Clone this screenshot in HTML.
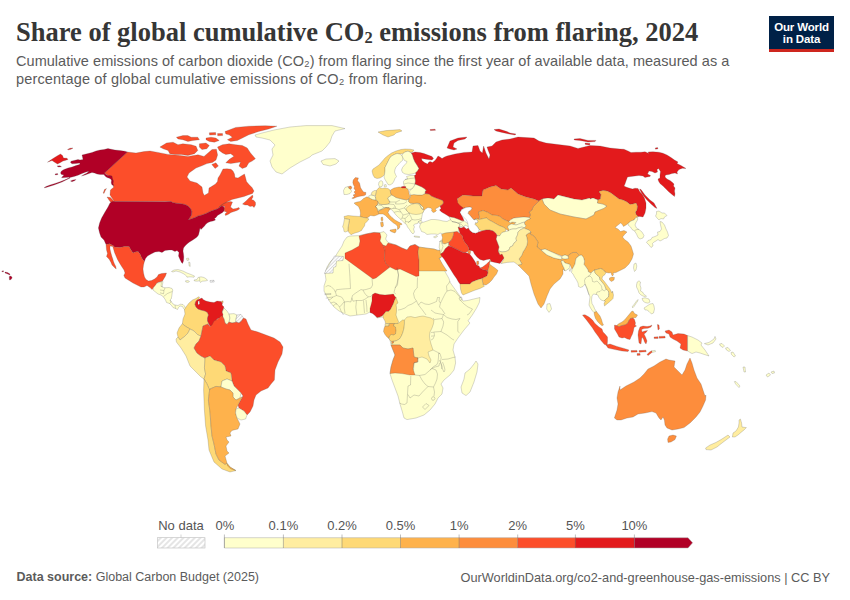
<!DOCTYPE html>
<html><head><meta charset="utf-8"><title>Share of global cumulative CO2 emissions from flaring, 2024</title>
<style>
html,body{margin:0;padding:0;background:#fff;}
body{width:850px;height:600px;position:relative;overflow:hidden;font-family:"Liberation Sans",sans-serif;}
.title{position:absolute;left:16px;top:15.5px;font-family:"Liberation Serif",serif;font-weight:bold;font-size:26.5px;line-height:32px;color:#363636;white-space:nowrap;letter-spacing:0px;}
.sub{position:absolute;left:16px;font-size:14.5px;line-height:18px;color:#5b5b5b;white-space:nowrap;}
.logo{position:absolute;left:769px;top:16px;width:65px;height:33px;background:#002147;border-bottom:3px solid #ce261e;color:#fff;font-weight:bold;font-size:11.5px;line-height:12px;text-align:center;}
.logo div{position:absolute;left:0;width:65px;text-align:center;white-space:nowrap;letter-spacing:-0.15px}
.foot{position:absolute;top:570px;font-size:13px;line-height:15px;color:#5b5b5b;white-space:nowrap;}
.lg{position:absolute;font-size:13px;line-height:15px;color:#555;white-space:nowrap;top:518px;transform:translateX(-50%);}
</style></head><body>
<div class="title" id="title">Share of global cumulative CO<span style="font-size:0.62em;position:relative;top:0.18em">2</span> emissions from flaring, 2024</div>
<div class="sub" id="sub1" style="top:52px;letter-spacing:0.045px">Cumulative emissions of carbon dioxide (CO₂) from flaring since the first year of available data, measured as a</div>
<div class="sub" id="sub2" style="top:70px;letter-spacing:0.16px">percentage of global cumulative emissions of CO₂ from flaring.</div>
<div class="logo"><div style="top:4.7px">Our World</div><div style="top:16.7px">in Data</div></div>
<svg width="850" height="600" viewBox="0 0 850 600" style="position:absolute;left:0;top:0">
<defs><pattern id="nodata" width="2.4" height="2.4" patternUnits="userSpaceOnUse" patternTransform="rotate(45)"><rect width="2.4" height="2.4" fill="#fff"/><line x1="1.2" y1="0" x2="1.2" y2="2.4" stroke="#d8d8d8" stroke-width="0.9"/></pattern></defs>
<g stroke="#444" stroke-width="0.3" stroke-opacity="0.7" stroke-linejoin="round">
<path d="M127.4,152 136,153 144,151.6 150,151 158,152.4 168,154.4 178,155.2 188,156.4 198,154.8 204,156.4 208,153 212,149.6 216.4,149.2 217.6,155 216,160 212.4,162.4 207,163.6 202.4,165.6 196,168 189,173 187,177 190,181 197,183 202,187 203,193 204.4,195.4 205,195 208.5,193 209,188 211.5,186.5 215.5,184 217.5,181.5 218,178 220,175 222,171 223,169 227,168.8 231,169.2 233,171 234.5,174 235,177.5 238,178 242,175.5 244.5,174 245.5,177.5 246.5,181.5 249,184.5 252,187.5 254,191 252.5,193.5 248,195 244,196.5 240,197.5 236,198.5 232,199.5 228,201.5 224,203.5 221,205.5 219,207 222,204.5 226,202.5 230,201.5 232.5,202 231.5,204.5 230.5,207 233,209 236,208.5 239,207.5 239.5,209 237,210.5 234,211.5 231,212.5 228,214.5 225.5,215.5 225,214 227,212 224.5,211.5 224,209 224.5,206 221.5,206 219.5,207.5 217,209 214,210 210,211.5 206,213.5 202,215 198,216 195,217.5 191,219 188.2,219.7 190,217.5 191.5,215 191.8,211.5 190.5,208.5 188,206 185,204.5 181,203.8 176,203.2 172.5,202.5 171,201.5 165,201.4 114.4,201.6 112,198 110,195 110.4,190 113.6,187.2 112,180 109,176 104.4,173Z" fill="#fc4e2a"/>
<path d="M242.5,204 246,201 249,198 251.5,196 252.5,195 253,197 251.5,199.5 254,200.5 255.5,202.5 255.5,205 254,207.5 252.5,206 250,206.5 247.5,205 245,205Z" fill="#fc4e2a"/>
<path d="M107,197 110.4,197.6 114.4,201.6 113.6,204 110,201.6Z" fill="#fc4e2a"/>
<path d="M112,201.6 165,201.8 171,201.5 172.5,202.5 176,203.2 181,203.8 185,204.5 188,206 190.5,208.5 191.8,211.5 191.5,215 190,217.5 188.2,219.7 191,219 195,217.5 198,216 202,215 206,213.5 210,211.5 214,210 217,209 219.5,207.5 221.5,206 223.5,206.2 224.2,208 224,211 222.5,212.5 220,214 217.5,215.5 216,217.5 214.5,218.5 215.5,220 213,221 210.5,221.5 208,222.5 206,224 204.5,226 202.5,228 201,229.5 200,228 199.5,231 199,233 198.5,235 197,237 195,238.5 192,240.5 189.5,242 187,244 185,246 183.5,248 183,251 183.5,254 183.8,257 183.5,261 182.5,263.5 181.5,262.5 180,259.5 178.5,256 179,252.5 177,250.5 175,251.5 172,250 169,250 165,250.5 162,252.5 159,251.5 155,252 151,254 147.5,256 145.5,258.5 144.5,261.2 143,260 141.5,257.5 140,254 138,251.5 135,252 133,253 131,250 129,246.5 124.5,246.5 120,247.5 114.5,247 113,245.5 109.5,243.8 106,244.5 104,240 101,237 99.6,233 98.4,228 99.6,223 101.6,218 105,212 108,207 110,203Z" fill="#b10026"/>
<path d="M255,135 262,133 274,130 290,127 306,125.6 332,125.6 345,128.6 335,131 332,136 330,142 326,147 322,151 312,155 310,157 300,162 290,168 282,174 276,172 272,167 270,161 273,155 272,149 275,145 270,140 262,138 256,137Z" fill="#ffffcc"/>
<path d="M321,161 326,159 335,158.6 339,161 336,164 330,166 323,164.4Z" fill="#ffffcc"/>
<path d="M225,131.5 235.7,127.4 248.8,126.2 265.3,125.7 276.9,126.2 268.6,129 258.7,131.5 248.8,134.8 242.3,138.1 237.3,140.5 230.7,141.4 227.4,139.7 232.4,137.2 229.1,134.8 225.8,133.9Z" fill="#fc4e2a"/>
<path d="M217.5,147.1 222.5,144.7 229.1,143.8 235.7,144.7 242.3,145.5 247.2,147.9 250.5,152.9 255.4,158.7 252.1,161.1 248.8,162.8 246.4,166.9 242.3,168.5 239,166.1 240.6,162 235.7,162.8 230.7,163.6 225.8,162.8 229.1,159.5 234,156.2 230.7,153.7 225.8,154.5 222.5,152.9 219.2,150.4Z" fill="#fc4e2a"/>
<path d="M159.9,147.1 166.5,143 173.1,142.2 178,144.7 182.9,143.8 191.2,144.7 196.1,146.3 197.8,150.4 194.5,153.7 187.9,155.4 181.3,154.5 174.7,154.5 169.8,153.7 168.1,150.4 163.2,148.8Z" fill="#fc4e2a"/>
<path d="M176.4,137.2 182.9,135.6 187.9,135.6 191.2,137.2 197.8,137.2 199.4,139.7 192.8,140.5 187.9,141.4 182.9,139.7 178,138.9Z" fill="#fc4e2a"/>
<path d="M206,138.1 211,137.2 215.9,138.1 219.2,140.5 214.3,142.2 209.3,141.4 206,139.7Z" fill="#fc4e2a"/>
<path d="M209.3,132.8 215.6,132.5 215.9,134.8 209.6,135.1Z" fill="#fc4e2a"/>
<path d="M217.5,133.6 222.5,133.5 222.7,135.6 217.7,135.8Z" fill="#fc4e2a"/>
<path d="M199.4,143.8 206,143 209.3,145.5 206.8,148.8 201.9,149.6 199.4,147.1Z" fill="#fc4e2a"/>
<path d="M211.8,164.4 215.9,162.8 218.4,166.1 215.1,168.5Z" fill="#fc4e2a"/>
<path d="M9.2,276.5 11,276 12.2,277.8 11,279.5 9.5,280Z" fill="#b10026"/>
<path d="M5,272 7.5,272.5 10,274 9.8,275 7.2,273.8 5,273Z" fill="#b10026"/>
<path d="M1.8,271 3.5,270.8 3.5,271.8 2,271.8Z" fill="#b10026"/>
<path d="M186.5,258.5 188.5,258 189,260 187,260.5Z" fill="#ffffcc"/>
<path d="M188.7,262 190,262.5 190.2,266.5 189.2,266Z" fill="#ffffcc"/>
<path d="M127.4,152 125,151.2 120,150.5 115,150 110,149 108,148.5 104,149.5 100,150 96,151 92,152.5 88,153.5 84,154.5 82,155 82.5,157 83,159.5 80,160 78,159.5 74,160.5 71,161.2 70.5,162.5 72,163.8 76,163.5 80,163 79.5,164.5 76,165.5 72,167 68,168 64,169.5 61.5,171 60.5,173 61.5,174.5 64,175 62.5,176.5 61.5,177.8 65,177.5 69,177.2 70,178 66,180 62,182 58,183.5 54,185 50,186.2 46,187.5 44,187.8 46,186.5 50,185 55,183.5 60,181.8 65,179.8 70,177.5 74,176.5 78,175.2 82,173.5 86,172 89,171.2 87,173 84,174.5 81.5,176 85,175 89,173.5 92,172.5 94.5,173 97,174 100,174.5 104,174.5 105,176 107,177.5 110,178.5 111.5,180 111.2,183 112,185 114,185.5 113,184 113.5,181 112.5,178.5 112,176 110,175.5 108,175.5 106,174.5 104.5,173Z" fill="#b10026"/>
<path d="M47.5,162.2 50,160.5 53,158.5 57,156 60.5,154 62.5,155.5 63.5,158 67,158.2 68,159.5 65,160.5 63,161 60.5,162.5 57.5,164 55,162.5 52,160.5Z" fill="#e31a1c"/>
<path d="M67.5,149.5 70,148.2 73,148 71,149.2 68.5,149.8Z" fill="#e31a1c"/>
<path d="M57,166 60,165.8 61.5,166.8 58.5,167Z" fill="#b10026"/>
<path d="M55,174 57.5,173.5 58,174.5 55.5,175Z" fill="#b10026"/>
<path d="M70.5,181 73,180 76,179.5 75,180.5 72,181.8Z" fill="#b10026"/>
<path d="M103.2,193 104.5,189.5 106.5,188.5 105,191 104,193.5Z" fill="#fc4e2a"/>
<path d="M106,244.5 109.5,243.8 113,245.5 114.5,247 120,247.5 124.5,246.5 129,246.5 131,250 133,253 135,252 138,251.5 140,254 141.5,257.5 143,260 144.5,261.2 143.5,265 143,269 143.5,273 144.5,277 146,279.5 148.5,281 151.5,280.5 154.5,279 157,277 158.5,274.5 161.5,273.5 166.5,273 165.5,276 164,278.5 162.5,281 161.5,281.5 159,282 157,283 156,285 156.5,286.5 154,287 152,289.5 150,287.5 147,285.5 144,287 141,287 137,285 133,283 129,280.5 125,278 123.8,275.5 125,273 124,270 122,267 119.5,263 117.5,259.5 116,256 114.5,252.5 113.5,249 112.8,246.5 110,246 110,249 110.8,252.5 111.8,256 112.8,259 113.5,261.5 114.5,264 115.8,266.5 116.2,269 115,268 112,265 111,262.5 109,259 106.5,256.5 107.5,253.5 106.5,250Z" fill="#fc4e2a"/>
<path d="M224,308 227,311 229,314 230,318 229,322 227,324.4 225,323 224,319 222.4,316 221,316 222.4,311.6Z" fill="#ffffcc"/>
<path d="M229,314 234,313.6 237,315 236,319 236,322 235,322.4 232,323 229,322 230,318Z" fill="#ffffcc"/>
<path d="M237,315 241,314.4 243.6,318 241,321.6 239,323 236,322 236,319Z" fill="url(#nodata)"/>
<path d="M153.5,287.5 155.5,285 157,283 160,282.5 161.5,281.5 163,281.5 162.5,284.5 162,287 165,287.8 169,287.5 172,288.5 172.8,290 172.2,293 171.8,296 171.2,299 170,300 171.5,302 173,304 175,305 178,305.5 180.5,304.2 183,304.5 184.5,306 185.5,308.5 184.5,309.5 183.5,308.5 182.5,306.5 180,306 178.5,307.5 177.5,309.5 175.5,308.5 173,307.5 171.5,305.5 169.5,303.5 166.5,302.5 165.5,300 163.5,297 161,295 158,294 155.5,292 153,290Z" fill="#ffffcc"/>
<path d="M171.5,271.5 174,270 178,269.5 183,271 187,273 191,274.5 194.5,276 194,277.2 190,276.8 187,277.2 186.5,276 184,274 180,272 176,271 173,272Z" fill="#ffffcc"/>
<path d="M185.5,280.8 188,280.5 189.5,281.5 188,282.5 185.8,282Z" fill="#ffffcc"/>
<path d="M194,280 197,279.5 198,277.5 201,276.8 204,277.5 206.5,279 207.5,280.5 205,281 202,281.2 200.5,282.5 199.5,280.8 197,281.2 194.5,281Z" fill="#ffffcc"/>
<path d="M210,280.5 214,280.3 214.2,282 210.2,282.2Z" fill="url(#nodata)"/>
<path d="M221.5,301.2 223,300.8 223.2,302.5 221.8,302.8Z" fill="#feb24c"/>
<path d="M184.5,309.5 186,307 189,303 192.5,300 196,298.5 198.5,296.8 199.5,297.2 199,298.5 197,300 195.5,302 195,304.5 196,307 198,309 201,310 205,311 207.5,312.5 208.5,315 207.5,318 207.5,321 209,324 208,324 203,326 202,331 201,336 198,335 194,331 190,329 185,326 182.4,323.6 183,319 185,314 184.4,310Z" fill="#fed976"/>
<path d="M197,300 199.5,299 202,298 203,299.5 206,301 210,302 214,302.5 217,301 221,301.5 222.5,303.5 222,305 224,307 223,309.5 222,312 223,314.5 222.5,317 219.5,318 217,319 215.5,322 214,325 211.5,326.5 209.5,325.5 209,324 207.5,321 207.5,318 208.5,315 207.5,312.5 205,311 201,310 198,309 196,307 195,304.5 195.5,302Z" fill="#e31a1c"/>
<path d="M198,301.2 199.3,300.8 199.6,303.5 198.8,305 198,304Z" fill="#ffffff"/>
<path d="M182.4,323.6 185,326 190,329 188,333 184,337 180,340 178,337 177,333 179,328Z" fill="#fed976"/>
<path d="M178,337 180,340 184,337 188,333 190,329 194,331 198,335 201,336 199,341 196,344 194,348 197,353 201,356 205,358 205,360 204.4,368 205.6,374 204,379 201,377 196,372 190,366 186,356 181,348 176.4,342 176,339Z" fill="#ffeda0"/>
<path d="M210,326.4 212,325 214,321 218,319 221,316 222.4,316 224,319 225,323 227,324.4 229,322 232,323 235,322.4 236,322 239,323 241,321.6 243.6,318 246,319 248,324 251,330 258,332 266,335 274,338 280,342 283,347 282,354 278,362 275,370 274.4,380 271,384 268,388 261,391 256,395 254,400 253,406 250,412 247,415 244,411 239,408 238,405 243,396 241,393 238,390 234,386 232,381 231,373 226,371 225,366 221,362 214,360 210,356 205,358 201,356 197,353 194,348 196,344 199,341 201,336 202,331 203,326 208,324Z" fill="#fc4e2a"/>
<path d="M205,358 210,356 214,360 221,362 225,366 226,371 231,373 232,381 227,379 222,381 221,387 216,386.4 210,389 209.6,390 207,384 204,379 205.6,374 204.4,368 205,360Z" fill="#fed976"/>
<path d="M222,381 227,379 232,381 234,386 238,390 241,393 240,398 236,400 233,397 233,393 230,390 226,389 221,387Z" fill="#ffffcc"/>
<path d="M204,379 207,384 209.6,390 208.4,400 210,412 211,426 212,436 214,444 216,454 219,460 225,464.4 227,463 230,467 236,470.6 230,472 222,469 214,462 209,450 208,440 205.6,426 204.4,410 203.6,390Z" fill="#fed976"/>
<path d="M209.6,390 210,389 216,386.4 221,387 226,389 230,390 233,393 233,397 236,400 240,398 242.4,396.6 238,405 236,409 235.6,413 237,418 238,420 240,424 238,429 232,430.4 230,433 231,436 226,437 227,440 229,442 226,446 227,451 229,453 225,456 227,463 225,464.4 219,460 216,454 214,444 212,436 211,426 210,412 208.4,400Z" fill="#feb24c"/>
<path d="M227,463.6 230,467 235.6,470.4 231,469 227.6,466Z" fill="#feb24c"/>
<path d="M236,409 239,408 244,411 247,415 245.6,419 241,420 237,418 235.6,413Z" fill="#ffffcc"/>
<path d="M378,132 386,130.6 400,129.6 402,131 396,133 394,135 388,137 383,135Z" fill="#fed976"/>
<path d="M375.5,197 378,201.5 379,204 382,204.5 385,204.5 388,204 390,202.5 389,201 387.5,198 389.5,196.5 391.5,195 393,195.5 396,197.5 400,198.5 404,199.5 406.5,200 409,199 408.5,201.5 410,203 413.5,203.5 417,203 419.5,203.5 421.5,205.5 423.5,207.5 423,209.5 424,210.5 423,212.5 422.5,213.5 422,216 421.5,218.5 421.2,220.5 418.5,221.5 417.5,223.5 415,224 413.5,225 414.5,227 413.5,229 414.5,232 413,234 411,232 409.5,229.5 407.5,227 406.5,224.5 405,223.5 403,221.5 401,219.5 398.5,217.5 396,215 394,212.5 392.5,210.5 390.5,209 389,207.5 386,207.5 383,209 380.5,210 378,211.5 377,208.5 375.5,206.5 377.5,204.5 378,201.5Z" fill="#ffffcc"/>
<path d="M343.5,190.5 345,187.5 348,186.5 348.5,188 351,189.5 351.5,191.5 350,193.5 347,194.5 344,194.5Z" fill="#ffffcc"/>
<path d="M348.5,186.5 351,186 352,188 350.5,189.2 348.8,188.2Z" fill="#fd8d3c"/>
<path d="M353.5,185 352.8,182.5 353.2,180 355.3,177.6 358.4,177.9 357.6,180.7 359.5,183 360,185 360.5,187.5 362,190 363.5,192 366,192.5 365.5,195 363.5,195.8 360,196.2 357,197 353.5,198.5 351.8,198.2 354.5,196.5 353,195 355.5,194 354,192 355.5,190.5 354,188.5 354.5,186.5Z" fill="#fd8d3c"/>
<path d="M354,203 357,202 360,201.5 362,200 363.5,198.5 367,196.8 369.5,198 372.5,199.5 376,200 378,201.5 377.5,204.5 375.5,206.5 377,208.5 378,211.5 379,214 377,215 374,216 370.5,215.5 368.5,217 367,218 363.5,217.5 360,216.5 360.5,213.5 360,210 358.5,206.5 355.5,204.5Z" fill="#feb24c"/>
<path d="M381,217.5 382.5,217 383,220 382,221.5 381,220Z" fill="#feb24c"/>
<path d="M380.5,222.5 383,222 383.5,225.5 382.5,227 381,226.5Z" fill="#feb24c"/>
<path d="M344,216.5 348,215.5 353,216 360,216.5 363.5,217.5 367,218 369,219 367,221.5 365,223.5 364.5,226 363,228 361.5,230.5 358.5,232 355,233 352.5,234 351,234.8 349,232.5 348,231 348,228 348.5,225 349,222 349.5,219.5 346.5,219 344.5,218.5Z" fill="#fed976"/>
<path d="M344.5,218.5 346.5,219 349.5,219.5 349,222 348.5,225 348,228 348,231 345.5,232 344,231.5 343.5,228 342.5,227 343.5,224 344,221Z" fill="#ffeda0"/>
<path d="M368.5,196 371,195 373.5,195.5 375.5,197 376,200 372.5,199.5 369.5,198Z" fill="#ffffcc"/>
<path d="M371,194.5 372,192 374.5,190.5 376.5,190.5 376.2,193 375.5,195.5 373.5,195.5Z" fill="#ffeda0"/>
<path d="M376.5,190.5 378,188.5 379.5,187.5 382,188.5 385,188 388,188.5 390,190 390.5,192.5 391.5,195 389.5,196.5 387.5,198 389,201 390,202.5 388,204 385,204.5 382,204.5 379,204 378,201.5 376,200 375.5,197 375.5,195.5 376.2,193Z" fill="#fed976"/>
<path d="M390.5,190 394,188 399,187 404,187.5 407,188 408.5,190.5 409,193.5 410,196.5 409,199 406.5,200 404,199.5 400,198.5 396,197.5 393,195.5 391.5,195 390.5,192.5Z" fill="#feb24c"/>
<path d="M378,211.5 380.5,210 383,209 386,207.5 389,207.5 390.5,209 389,210.5 388,212.5 389.5,215 392,217.5 395,220 398.5,222 401.5,223.5 402,224.5 399.5,225 400,227 398.5,229 397.5,229.5 397.5,226.5 396,224.5 393.5,223 390.5,220.5 388,218 385.5,215.5 383,214 380.5,214 379,214Z" fill="#feb24c"/>
<path d="M390,230 393,229.5 396,229 396.2,231 395,233 392,232 390.2,231Z" fill="#feb24c"/>
<path d="M410.5,195 414,194.5 418,195 422,195 425,193.5 429,194 431.5,196 435,197.5 439,199 443,200.5 443.5,203 442,205 440,206 438,207.5 435,209 436.5,210.5 435,212 433,212.5 431.5,210.5 432,209 430.5,208 428,207.5 426,208.5 424.5,210 423,209.5 423.5,207.5 421.5,205.5 419.5,203.5 417,203 413.5,203.5 410,203 408.5,201.5 409,199 410.5,197Z" fill="#feb24c"/>
<path d="M406,208.5 408.5,206 411.5,204.5 415,203.5 419,204 420.5,206.5 422,209 424,210.5 423,212.5 420,214 416,214.5 412,214 408.5,212.5 406.5,210.5Z" fill="#ffeda0"/>
<path d="M420,225 421,223 424,222 427,221 431,219.5 435,219.5 439,220 443,221 447,221.5 450.5,219.5 452,221.5 455,222 458,223 459,223.5 460,225 459,227 458.5,231.5 455,232 451,232.5 447,233 443,234 440,233 438,234.5 435,234 431,234 427,234.5 424.5,232.5 421.5,231.5 420.5,229 419.5,227Z" fill="#ffffcc"/>
<path d="M418.5,221.5 421.2,220.5 422.2,221.8 420,223.5 418.8,223Z" fill="#ffffcc"/>
<path d="M449,216.5 451,217 454,217.5 458,219 461.5,220.5 464,220.8 467,223 469,224.5 468.5,227 467,226 465,225 464,227 461,226.5 459,227 460,225 459,223.5 458,223 455,222 452,221.5 450.5,219.5Z" fill="#ffffcc"/>
<path d="M414,236 419.5,236.5 419.5,237.5 414.5,237Z" fill="#ffffcc"/>
<path d="M433.5,237 437,235.5 437.5,236.5 435,238Z" fill="#ffffcc"/>
<path d="M372,171 373,169 376,167 379,165 382,161.5 385,158 388,155.5 391.5,153 396,151 401,149.5 405,149 410,149.2 414,150 413,151.5 411,152.5 408,151.2 405,152 403,153.5 400,154 397,153.5 394.5,154.5 391.5,156 389.5,158.5 388,161.5 386.5,164.5 385,167.5 385,171 384.5,174.5 382.5,176.5 380,178 377,178.5 374.5,177.5 373,175Z" fill="#fed976"/>
<path d="M385,167.5 386.5,164.5 388,161.5 389.5,158.5 391.5,156 394.5,154.5 397,153.5 400,154 402,155.5 403,158 402.5,160.5 400,162.5 398,165 396,167 395,169.5 394.5,172 395.5,174.5 396.5,176.5 395,178.5 394,181 392.5,183.5 390,185 388,184.5 386.5,182 385,179.5 384,177 384.5,174.5 385,171Z" fill="#ffffcc"/>
<path d="M403,153.5 405,152 408,151.2 411,152.5 412.5,155 413.5,158.5 415,162 417,165 419,168.5 417.5,171 415.5,173 412,174 408.5,174.5 405,174 402.5,172.5 401.5,170 402.5,167.5 404.5,165 406.5,163 407,161.5 404.5,160.5 403,158 402,155.5Z" fill="#ffffcc"/>
<path d="M406.5,176.5 410,175.5 414.5,175.5 415,178 415.5,181 415,184 414,186.5 412,189 409,189.5 406,188 405,187 403.5,184 403.5,181.5 405,179.5 407.5,179 407,177.5Z" fill="#ffffcc"/>
<path d="M401,187 403.5,186.2 406,186.8 405.5,188 402,188Z" fill="#e31a1c"/>
<path d="M414,186.5 415,184 417.5,185 422,187 425,189 426.5,191 425.5,191 425,193.5 422,195 418,195 414,194.5 410.5,195 410,193.5 409.5,192 410,190 412,189Z" fill="#ffffcc"/>
<path d="M379,182 381,180.5 382.5,181.5 383,184 382,186.5 379.5,187 378.5,184.5Z" fill="#ffffcc"/>
<path d="M384,185 386,184.5 386.5,186.5 384.5,187Z" fill="#ffffcc"/>
<path d="M350,236 359,235.6 366,234 374,232.4 380,232.6 384,231.6 387,235 385.6,239 388,242.4 396,245 402,248 407,250 410,246 415,244.4 419,247 426,248 434,249 438,250.4 442,250 443,255 440.4,258 439,258 442.5,266.4 445.3,272 448.9,278.4 450.3,282.7 453.8,287.6 457.4,292.6 460.2,296.5 461.6,299 463,301.1 468,300.4 473.7,299 480,297.5 479.3,302.5 476.5,308.2 472.2,315.2 468,320.9 470,323 464,330 458,338 454,344 453,350 455,357 455.6,363 454,370 450,375 444,380 441,384 443,388 442,394 438,398 435,404 430,410 424,415 416,418 407,419.6 404,418 402.4,412 400,404 398,396 395,388 392,380 390,373.6 391,367 393,360 395,355 393,350 391,345 390,340 388,335 385.6,330 385,326 387,324 387,319 382,317 377,318 374,313 370,312 366,314 358,315 350,316 345,314 339,311 334,307 330,302 327,297 324,291 324,286 326,280 325,273 327,267 330,262 335,257 338,252 342,246 344,241 347,237Z" fill="#ffffcc"/>
<path d="M334.5,256 343.5,256.5 343,260.5 336.5,261 336,266.5 333.5,267.5 333,273 324.5,273.5 326,270 329,265 332,260Z" fill="url(#nodata)"/>
<path d="M359,236 366,234 374,232.4 380,233 381,237 380,241 383,245 385,250 384.4,259 386,264 390,267 376,278 373,279 369,276 358,268 345,258.4 345,253 352,250 359,246 360,241Z" fill="#fc4e2a"/>
<path d="M386,246 388,243 396,245 402,248 407,250 410,246 415,244.4 419,247 418,252 419,260 419,276 416,276.4 400,269 396,270 390,267 386,264 384.4,259 385,250 383,245Z" fill="#fc4e2a"/>
<path d="M419,247 426,248 434,249 438,250.4 442,250 443,255 440.4,258 439,258 443,265 447,271 419,271 419,260 418,252Z" fill="#feb24c"/>
<path d="M372.5,294.5 375,293 380,294.5 385,295 390,294.5 393.5,294 394.5,296 396,297.5 394.5,300.5 393.5,303.5 392,306.5 390.5,309.5 388.5,311.5 386,311.5 384,314 382,316 379.5,317 377,317.5 375,315.5 372.5,313.5 370,312.5 370,308.5 371,305 372,301 372,297Z" fill="#e31a1c"/>
<path d="M396,297.5 397,300 398,303 396,304.5 396.5,307.5 396.5,311.5 396,315 397,318 398.5,321.5 398,323.5 394.5,323.5 389.5,323.5 385.5,323.5 385,321 383.5,318.5 383,316 384,314 386,311.5 388.5,311.5 390.5,309.5 392,306.5 393.5,303.5 394.5,300.5Z" fill="#fed976"/>
<path d="M385,323.8 389,323.8 389,326 385,326.2Z" fill="#ffeda0"/>
<path d="M385,326.2 389,326 389.5,323.5 394.5,323.5 393.5,326 395.5,327 396,330.5 395.5,334 393.5,335 391.5,334.5 389.5,336 389,338.5 387,337 385,334.5 383.5,331.5 384,328.5Z" fill="#feb24c"/>
<path d="M394.5,323.5 398,323.5 400,322 402.5,320 404.5,320 404.5,324 404,328 403,332 401.5,336 399.5,339 397,340.5 394,341 392,341.5 390,340.5 389,338.5 389.5,336 391.5,334.5 393.5,335 395.5,334 396,330.5 395.5,327 393.5,326Z" fill="#fed976"/>
<path d="M404.4,320 407,317 411,316.6 415,317.6 419,316.6 423,316 427,317 431,318 434,320 433.4,324 432,328 430,332 429.4,336 430,340 431,344 433,350 428,352 429,356 431,360 430,363 427,359 422,357 418,358 414,357 413,348 408,349 403,348 400,345 392,345 391.4,343 394,341.6 397,340.4 399.4,339 401.4,336 403,332 404,328 404.4,324Z" fill="#ffeda0"/>
<path d="M391.5,341.5 393.5,341.2 393.5,343 392,343.5Z" fill="#fd8d3c"/>
<path d="M391,345 400,345 403,348 408,349 413,348 414,357 418,358 417.6,362 414,363 413,369 415,375 410,375 402,373.6 395,373 390,373.6 391,367 393,360 395,355 393,350Z" fill="#fd8d3c"/>
<path d="M476,361 478,364 477,372 474,382 470,392 466,395.6 462,393 461,387 464,379 465,373 470,369 474,364Z" fill="#ffffcc"/>
<path d="M606,345 610,344 617,346.4 624,348.4 629,350 628,351.6 622,351 615,349.6 608,348Z" fill="#fc4e2a"/>
<path d="M631,350.6 637,350.4 637.2,352 631.2,352.2Z" fill="#fc4e2a"/>
<path d="M639,350.6 646,350.2 646.2,351.8 639.2,352.2Z" fill="#fc4e2a"/>
<path d="M637,353.6 640,353.4 640.2,355.2 637.2,355.4Z" fill="#fc4e2a"/>
<path d="M647,354.4 649.6,352 651.6,350.8 652.4,352 650,354 648,355.6Z" fill="#fc4e2a"/>
<path d="M651.6,350.8 655.2,350.4 655.6,351.6 652.4,352.4Z" fill="#ffffcc"/>
<path d="M657.4,324.4 659,325 659.4,329 658,330Z" fill="#fc4e2a"/>
<path d="M654,337 658,336.8 658.2,338.4 654.2,338.6Z" fill="#fc4e2a"/>
<path d="M659,336.4 665,336.2 665.2,338 659.2,338.2Z" fill="#fc4e2a"/>
<path d="M665,331 669,330 672,332 673,335 678,333.6 684,334 687.6,335.6 687.6,351 683,350 680,348 681,344 677,341 673,339 670,337 669,334 666,333Z" fill="#fc4e2a"/>
<path d="M687.6,335.6 692,337 698,340 702,343 701,345 705,350 709,356 704,354.4 700,353 696,352 692,353.6 687.6,351Z" fill="#ffffcc"/>
<path d="M704.4,343.6 709,342.4 714,339 715,336.4 716,339 713,343 708,345Z" fill="#ffffcc"/>
<path d="M620,390 626,386 634,382 640,378 644,374 648,369 654,366 660,362 666,359 669,360 675,361 674,367 678,371 682,375 685,370 687,364 690,358 692,363 694,370 697,378 701,384 703,390 705,396 706,395 705.6,400 703,406 700,412 696,417 690,423 684,427.6 678,429 672,430 667,428 665,425 664.4,420 663,417 661,420 659,418 656,413 652,411.6 645,413 638,414 633,417 627,418 621,420 617,420 614.4,418 615,416 617,410 618,404 617,398 618,392 620,386Z" fill="#fd8d3c"/>
<path d="M669,436 673,435 676.4,436 675,439.6 671,442 668,442.4 667.6,439Z" fill="#fd8d3c"/>
<path d="M739,420 740.4,419 741.6,423 742,427 746.4,427.6 744,430 741,432.4 738,435 735,437 732.4,437 733,433 736,431 738.4,427 739,423Z" fill="#ffeda0"/>
<path d="M728,435 730,437 726,440 722,443 717,447 711,450 706,449.6 705.6,448 710,445 716,442.4 721,439.6 725,437Z" fill="#ffeda0"/>
<path d="M734.4,381.6 736,381.6 740,386 739,387.6 735.6,384Z" fill="#ffffcc"/>
<path d="M719.5,344 722,343.5 724.5,346 723,347.5 720.5,346Z" fill="#ffffcc"/>
<path d="M725.5,348 728,347.5 730.5,350.5 729,351.5 726.5,350Z" fill="#ffffcc"/>
<path d="M731,352.5 733,352 735.5,356 734,357 731.5,354.5Z" fill="#ffffcc"/>
<path d="M743,367 745,367 745.5,372 744,372Z" fill="#ffffcc"/>
<path d="M766,375 769,373 770.5,375 767.5,377Z" fill="#ffffcc"/>
<path d="M771,372 774,371 774.5,373 772,373.5Z" fill="#ffffcc"/>
<path d="M411,152.5 411.5,153 415,152 420,152.5 424,153.5 428,155 432,156.5 433.5,158.5 432,160 428,159.5 424.5,159 421.5,158.5 422,160.5 424.5,162.5 427.5,164 428.5,162.5 430,161.5 432.5,162.5 435,160.5 436.5,158.5 438,156 440,157 442,158.5 444.5,157 447,156 451,155 455,154 464,152.4 472,152 473,146 478,145.6 480,151 482.4,153 483.6,146 486,153 489,159 490,155 488,150 487,147 492,146 496,142 502,140 510,139 518,137 526,137.6 534,138 539,141 546,143 554,144 562,145 570,146 578,148.4 584,147 590,145.6 600,146 610,148 620,149 624,149.2 628,151 631,152.5 636,152.2 641,152.2 645,151.8 649,153.5 648,152 653,151.8 659,152.2 663,153.2 667,155 671,157.5 674.5,160 678,162 677,163.5 681,165.5 686,168.5 682.5,168.2 679,169.5 677,172 677.5,174 675,173 672,173.5 669,174.5 665.5,175 665,177 667,179 670,180.5 672.5,182.5 674,184 673.5,186 675,188 674.5,191 675,194 674.5,196.5 672,194.5 669,192 666,189 663,186 660,183.5 658.5,181 658,179 660,178 660,175 660.5,171.5 658.5,168.5 657,169.5 657.5,172 655,173 652,171.5 649,171 647.5,174 650.5,175.5 650,176.5 647,177 645,177.5 643,176 639,175.5 635,176 631,176.5 627.5,177 626,181 625,184 624,186 626,187 629,188 632.5,189 635,188.2 638,188.5 640,192 642,194 644.4,198 646,203 646,208 645,213 643,217 640,216.4 638,216.4 636,214.4 635.4,212 637,210 637.4,206 636,203 633,204 630,204.4 627,202 623,200 619,199 615,196 611,193 607,191 603,190.4 599,191.4 601,194.4 600.4,199 598,200 593,198 590,199 590,198 582,200 574,199 566,197 558,195 554,199 548,198 542,199 539,201 534,199 526,197 518,194 511,188 508,190 501,189 496,185.6 490,187 483,190 482,196 473,196 463,195 457,199 457.5,200 459,203 461.5,205 464,206.5 465,207.5 461.5,209.5 460.2,212 461.5,215 463,218 464,220.8 461.5,220.5 458,219 454,217.5 451,217 449,216.5 445,214 441.5,212 439.5,210 441,208.5 440,206 442,205 443.5,203 443,200.5 439,199 435,197.5 431.5,196 429,194 425,193.5 425.5,191 426.5,191 425,189 422,187 417.5,185 415,184 415.5,181 415,178 414.5,175.5 416,174.5 415.5,173 417.5,171 419,168.5 417,165 415,162 413.5,158.5 412.5,155Z" fill="#e31a1c"/>
<path d="M447,148 450,141 458,138 467,137 465,139 458,140.4 454,143 453,147 457,149 454,150 450,149Z" fill="#e31a1c"/>
<path d="M494,129.6 499,129 507,131.6 510,133 516,134 515,135 509,134 502,132.4 496,131Z" fill="#e31a1c"/>
<path d="M574,139 580,138.6 588,140.4 596,140.4 595,141.6 588,142 580,140.4 574.4,140Z" fill="#e31a1c"/>
<path d="M585,143 590,143.4 589.6,145 585.4,144.6Z" fill="#e31a1c"/>
<path d="M430,129.6 435,129.2 435.6,130.2 430.4,130.6Z" fill="#e31a1c"/>
<path d="M639.6,189 641,189.6 645,195 650,200 654,203 657,208.4 655,207.6 651,204 647,200 643.6,196 641,192Z" fill="#e31a1c"/>
<path d="M655.2,148 657.6,147.6 658,148.8 655.6,149.2Z" fill="#e31a1c"/>
<path d="M542,199 548,198 554,199 558,195 566,197 574,199 582,200 590,198 590,199 593,198 598,200 597.4,203 603,204 607,206 604,208.4 600,210 595,212 594,215 586,219 574,217 560,214 550,210 544,204Z" fill="#ffffcc"/>
<path d="M539,201 542,199 544,204 550,210 560,214 574,217 586,219 594,215 595,212 600,210 604,208.4 607,206 603,204 597.4,203 598,200 600.4,199 601,194.4 599,191.4 603,190.4 607,191 611,193 615,196 619,199 623,200 627,202 630,204.4 633,204 636,203 637.4,206 637,210 635.4,212 636,214.4 638,216.4 637.5,217 636,217.5 634,220 631,221 628,223.5 626,225 623.5,226.5 622,224 620.5,223 618,225 615,227.5 618,229 620.5,231.5 624,230.5 627,232 624.5,234.5 622.5,237 624.5,239.5 628,242 631,246 632,249 633.5,254 632,259 629,264 625,268 620,270.5 616,272.5 613,273 613.5,274.5 612.5,276 611.5,274.5 611,272.5 609,273 606,272.5 604,271 603,269.5 600.5,268.5 597,269.5 594.5,270 592.5,271.5 591,273 588.5,272 588,270 586,267 584,264.5 584.5,261 583.5,257.5 581.5,255 579.5,255.5 578.5,254.5 576.5,252.5 573,252.5 569.5,254.5 568,256 565,255 562,256 554,253 545,249 541,250 537,247 538,242 534,236 530,234 531,232 529,230 526,229 524,228 526,226 524.5,224 524.5,222 527,220 530.5,218.5 529,217.5 530.5,215 529,212 532,210 533,207 535,205Z" fill="#feb24c"/>
<path d="M530,234 534,236 538,242 537,247 541,250 547,255 554,258 561,259.6 562,258.4 565,259 568.4,258.4 568,256 569.4,254.4 573,252.4 576.4,252.4 578.4,254.4 579.4,255.4 576,258.4 575.4,261 575,264 573.4,267 572,269.4 571,267 570,264.4 568.4,264 565,263 563,260.4 561,261 562.4,265 564,268 565,271 563,269 563,274 560,279 554,284 550,289 547,296 544,304 541,308 538,304 534,294 531,284 529,276 526,273 522,269 518,265 522,264 519,259 522,255 523,252 525,249 527,245 527.5,241.5 527,238 526,235 528,233.5 531,232Z" fill="#feb24c"/>
<path d="M541,250 545,249 554,253 562,257 561,259.6 554,258 547,255Z" fill="#ffffcc"/>
<path d="M547,304 550,303.6 551.6,309 549,312.4 546.6,309Z" fill="#ffffcc"/>
<path d="M457,199 463,195 473,196 482,196 483,190 490,187 496,185.6 501,189 508,190 511,188 518,194 526,197 534,199 539,201 535,205 533,207 532,210 529,212 530.5,215 529,217.5 524,217 519,217.5 514,218 511,219.5 509,221.5 506,220.5 503,219 500,216.5 497,215.5 492,215 488,212.5 483,210.5 478.5,212 479.5,216.5 479,219.5 476.5,218.5 474,220 472.5,218.5 470,215.5 468,213.5 468.5,211.5 471,210 472,208 470,207 466,207.5 463.5,208 462,207 459.5,205 457.5,202.5 457.5,199.5Z" fill="#fd8d3c"/>
<path d="M478.5,212 483,210.5 488,212.5 492,215 497,215.5 500,216.5 503,219 506,220.5 509,221.5 510,223 512,222 516,222.5 514,224.5 511.5,224 509,225 507.5,227 509,229.5 508.5,231 506,229 503,227 499,225.5 495.5,223.5 492,221.5 489,220 486.5,218 483.5,218.5 479.5,219.5 479.5,216.5Z" fill="#feb24c"/>
<path d="M474,220 476.5,218.5 479,219.5 479.5,219.5 483.5,218.5 486.5,218 489,220 492,221.5 495.5,223.5 499,225.5 503,227 506,229 505.5,231.5 502,232.5 499.5,236 497,235.5 495.5,233 493,231 489.5,230 486,230 482,231 479,229.5 477.5,227 475,224.5 475.5,222.5 477,223 478,221 476,219.5Z" fill="#fed976"/>
<path d="M511,219.5 514,218 519,217.5 524,217 529,217.5 530.5,218.5 527,220 524.5,222 521.5,223 519,224 516,225 514,224.5 516,222.5 512,222 510,223 509,221.5Z" fill="#ffffcc"/>
<path d="M509,225 511.5,224 514,224.5 516,225 519,224 521.5,223 524.5,222 524.5,224 526,226 524,228 522,227 518,228 516,229 513,229 510,229.5 508.5,231 509,229.5 507.5,227Z" fill="#ffffcc"/>
<path d="M497,235.5 499.5,236 502,232.5 505.5,231.5 508.5,231 510,229.5 513,229 516,229 518,228 522,227 524,228 520,230 518,232 517.5,235 516,238 516.5,241 514,243 512.5,246 510,247 509,250 506,251.5 502,252 499,251 498,251 499,247 497.5,243 496,239Z" fill="#ffffcc"/>
<path d="M498,251 499,251 502,252 506,251.5 509,250 510,247 512.5,246 514,243 516.5,241 516,238 517.5,235 518,232 520,230 524,228 526,229 529,230 531,232 528,233.5 526,235 527,238 527.5,241.5 527,245 525,249 523,252 522,255 519,259 522,264 518,265 514,262 507,262.4 501,263.6 504,259 501,257 500,255Z" fill="#ffeda0"/>
<path d="M458,227 461,228 464,227 466.5,229 468.5,228 470,230.5 472.5,232.5 475.5,233.2 478.5,232 482,231 486,230 489.5,230 493,231 495.5,233 497,235.5 496,239 497.5,243 499,247 498,251 500,255 502,254 504,258 500,263.5 495,262.5 491,261.5 490,259 487,259.5 483.5,260.5 480,259.5 477,257 474.5,254 473,251 470.5,250.5 469,250 468.5,247.5 467,245 464.5,242 463,239 462.5,236 460,233.5 459,230Z" fill="#e31a1c"/>
<path d="M460,212.5 462,209.5 466,207.5 470,207 472,208 471,210 468.5,211.5 468,213.5 470,215.5 472.5,218.5 474,220 476,219.5 478,221 477,223 475.5,222.5 475,224.5 477.5,227 479,229.5 478.5,232 475.5,233.2 472.5,232.5 470,230.5 468.5,228 468,225 467.5,222 466,219.5 464,217.5 461.5,215Z" fill="#ffffff"/>
<path d="M576,258.5 579.5,255.5 581.5,255 583.5,257.5 584.5,261 584,264.5 586,267 588,270 588.5,272 591,273 592.5,271.5 594.5,270 595,273 597,275 599.5,277 600,279.5 602,282 604.5,285 606,289 608.5,291 609,294 608.5,294 608.5,297 606,299 604,301 601,300 599,297.5 597.8,295 596.5,294.5 593.5,294 592,296 591.5,300 592,303.5 593.5,306 594.5,308.5 596,311 596.5,311.5 594,312.5 592.5,311 590.5,308 589,305 589.5,301 590,297 588.5,293 587,289 585,284 583,286.5 580.5,287.5 578.5,286.5 578,283 576.5,280 574.5,277 573,274 571.5,272.5 572,269.5 573.5,267 575,264 575.5,261Z" fill="#ffffcc"/>
<path d="M594.5,270 597,269.5 600.5,268.5 603,269.5 604,271 606,272.5 605,274.5 602.5,276.5 602,279 604,281 607,285 610,289 612,293 612.5,291 613.5,295 613,298.5 610.5,301 607.5,303.5 604.5,306 604,303 605.5,301.5 604,301 606,299 608.5,297 609,294 608.5,291 608.5,291 606,289 604.5,285 602,282 600,279.5 599.5,277 597,275 595,273Z" fill="#fed976"/>
<path d="M609.5,278 612,277 614.5,277.5 614,280 611.5,281.5 609.5,280Z" fill="#feb24c"/>
<path d="M634,264 636,263 636.8,266 636,270 634.5,271.5 633.5,268Z" fill="#ffffcc"/>
<path d="M561,261 563,260.5 565,263 568.5,264 570,264.5 569.5,267 570.5,269.5 570,271.5 568.5,268.5 567,270 565,271 564,268 562.5,265Z" fill="#ffffcc"/>
<path d="M562,256 565,255 568,256 568.5,258.5 565,259 562,258.5Z" fill="#ffffcc"/>
<path d="M594,312.5 596.5,311.5 598,313.5 600,316 601.5,319.5 602.5,323 603.5,325 602,325.8 600,324 597.5,321.5 595.5,318.5 594.5,315.5Z" fill="#feb24c"/>
<path d="M582.5,315 585,314.8 589,317 592.5,320 595,323.5 599,327 602,329 603,332 605,334 607.5,337 607.5,341 607.2,345 605,344.8 604,344 601,340.5 598,336 595,332 592.5,328 589.5,324 586.5,320 584,317Z" fill="#fc4e2a"/>
<path d="M616.5,325.5 619,323.5 622,322 624.5,320 627,317 629.5,314 631.5,311.5 633,311 634.5,313.5 637.5,315 636,317.5 633,318 630.5,318.5 629,320.5 627.5,323.5 625,325 622,325.5 619,326.8Z" fill="#feb24c"/>
<path d="M614.5,325 616.5,325.5 619,326.8 622,325.5 625,325 627.5,323.5 629,320.5 630.5,318.5 633,318 634.5,319.5 635.5,323 635,325 636.5,326 634,327.5 633.5,330.5 632.5,334 631,337 630,339.5 627.5,339 624.5,337.5 622,338 619,337 617.5,334 616,331.5 614.5,329Z" fill="#fc4e2a"/>
<path d="M640,327 643,326 647,326.5 650,326 652,325 651,327 648,328.2 644,328.5 641.5,329.5 642,332 645,331 647.5,330.5 646,332.5 644,334 645.5,337 647,341 646,344 644.5,342 643.5,339 642,337 641.5,340 641,344 639,343 638.5,339 638,335 638.5,331Z" fill="#fc4e2a"/>
<path d="M636.5,285 637.2,282 639,280.8 640.5,282 640,285 641,288 640.5,291 642.5,292 644,294.5 646.5,296 645.5,297 643,296 641,295 639,293 638,290 636.5,287Z" fill="#ffffcc"/>
<path d="M642,298.5 645,297.8 649,299 650,302 648,303.2 645,302.5 643,301Z" fill="#ffffcc"/>
<path d="M644,308 647,306 650,304 653,303.5 654,306 654.5,309 653.5,313 651.5,314 649,311.5 647,310 645,310Z" fill="#ffffcc"/>
<path d="M632,307 634,304.5 636.5,301 638,299.5 637.8,301 636,303.5 634,306.5 632.8,307.8Z" fill="#ffffcc"/>
<path d="M441.5,234.5 445,233 450,232.5 454,232 453.5,235 452.5,238 451,240.5 448.5,242.5 445,244 442.5,243.5 442,240 442.5,237.5Z" fill="#feb24c"/>
<path d="M454,232 457,231.5 460,233.5 462.5,236 463,239 464.5,242 467,245 468.5,247.5 469,250 467.5,251.5 465.5,252.5 463,252.5 459,250.5 455,248.5 451,246.5 448.5,245 448.5,242.5 451,240.5 452.5,238 453.5,235Z" fill="#fc4e2a"/>
<path d="M467.5,251.5 469,250 470.5,250.5 470.5,252.5 470,254.5 468.5,253.5Z" fill="#fd8d3c"/>
<path d="M440.5,254 443,252.5 445.5,248.5 448.5,246 448.5,245 448.5,242.5 445,244 442.5,243.5 442,240 440,241 439.5,244 439.2,247.5 440,250Z" fill="#ffffcc"/>
<path d="M440.5,254 443,252.5 445.5,248.5 448.5,246 451,246.5 455,248.5 459,250.5 463,252.5 465.5,252.5 468.5,253.5 470,254.5 472,257 474,260 475.5,262.5 476.5,265 479,266 480,268 483,269.5 487.5,270.5 488,273 487,276 482,278.5 477,280 472,282 470,284 460,284 458.5,282 456.5,278.5 454,275 451.5,271 449,267 446.5,263 444,259 441.5,256Z" fill="#e31a1c"/>
<path d="M476.8,261.2 478.5,261 478.8,264 477.5,265.2 476.6,263.5Z" fill="#fd8d3c"/>
<path d="M480,268 482.5,267 486,264.5 488.5,262 490,261 489.5,264 489,267 488,270.5 487.5,270.5 483,269.5Z" fill="#fc4e2a"/>
<path d="M489,267 489.5,264 492,266 495,268 498,270.5 496.5,274 494,277 492,280 489,283 486,285 483,284.5 482,278.5 487,276 488,273 488,270.5Z" fill="#feb24c"/>
<path d="M489.5,260.5 490.5,260 490.8,261.5 489.8,261.8Z" fill="#feb24c"/>
<path d="M460,284 470,284 472,282 477,280 482,278.5 483,284.5 484.5,286.2 480,288.5 474,290.5 468,293 463,295 461.5,293 460.5,289Z" fill="#fed976"/>
<path d="M656.5,211.5 659,211 662,213 664.5,213 667,215.5 664.5,217 663.5,219 661,218.5 659,220 657,218 655.5,216 656.5,214Z" fill="#ffffcc"/>
<path d="M660,221.5 662,222 664.5,225 666,229 667.5,232 668.5,235.5 667,238 664.5,238.5 662,240 660,241 658,239.5 656,241 654,242 652.5,243.5 653,246 651,247.5 649,245 646.5,242.5 648,240.5 651,239.5 652,237.5 655,236.5 658,235 657.5,232 660,231.5 661.5,229 660.5,225Z" fill="#ffffcc"/>
<path d="M628,223.5 631,221 634,220 636,217.5 637.8,217.2 637.5,220 636,222.5 635,225 636.5,228 639,229.5 642,232 644,235.5 643,238 640,239 638,237.5 636.5,234 634.5,231 632,229.5 630.5,227 628.5,225.5Z" fill="#ffffcc"/>
</g>
<g fill="none" stroke="#555" stroke-width="0.35" stroke-opacity="0.7" stroke-linejoin="round">
<path d="M349,263.8 349.8,275 350.5,288.5 343,289 336.5,289.7 335.5,292.2 334,289.5 331,286.5 328,285.5 325.5,286.8"/>
<path d="M335.5,292.2 336.5,295.5 333,297 329,297.5 325.8,298.2"/>
<path d="M324.5,293.8 331,293.6 331,294.4 324.6,294.6"/>
<path d="M372,278.5 372.6,285 371,288 366,289.5 363,290 361,289.5 358,291.5 355,293.5 352.5,295.5 352,297.5 350.8,302 348,301.5 344.5,302 343,299 341.5,297 336.5,295.5"/>
<path d="M363,290 364.5,293 366.5,295.5 368.5,296.8 365,299.2 362,300.5 356.5,300.5 353,301.2 351.8,297.8"/>
<path d="M368.5,296.8 371,296.5 372.5,294.5"/>
<path d="M397,267.5 398.5,275 397.2,283 395.2,288 394,292.2 395.8,294.2"/>
<path d="M330.5,303 334,302 337,304 339.5,307 341.5,305 343.5,302.5 344.5,302"/>
<path d="M328,300 331,299 333,297"/>
<path d="M333,306 335.5,304 337,304"/>
<path d="M339.5,307 341,311 343.5,315"/>
<path d="M356.5,300.5 355.8,307 356.8,315"/>
<path d="M363.5,300.5 364,307 364.5,313"/>
<path d="M366,300 366.8,307 367,312"/>
<path d="M344.5,302 344.2,308 345,313"/>
<path d="M417.5,277.5 417.2,288 415,290 413.5,293.5 414.5,298 416.5,301 418.5,305"/>
<path d="M416.5,301 412,304 408,305.5 405,308 401,309.5 398,310"/>
<path d="M397,268 398.5,275 397.5,285 395,288"/>
<path d="M418.5,305 421,302 425,304 429,304.5 433,303 436.5,301.5 437.5,297.5 439.5,297.5 439,301 440.5,303"/>
<path d="M418.5,305 422,309.5 426,315"/>
<path d="M440.5,303 439.5,307 442,309.5 445,314"/>
<path d="M440.5,303 442.5,299 445,294 447,291"/>
<path d="M447,291 446.5,286 449,283 449.8,281.2"/>
<path d="M447,291 451,290 455,291.5 458,295 460.5,298"/>
<path d="M459,298 461.5,297 462.2,299.5 460,300.5 459,298"/>
<path d="M460.5,300.5 464,304 468,307 472.5,309 469,314 467,315"/>
<path d="M433,318 434.5,319.5 442,318.5 443.7,322 443,326 441.5,330 441,331.5 434,332"/>
<path d="M443.5,314.5 442,318.5"/>
<path d="M431,310 435,313 440,314 443.5,314.5 447,317.5 452,319 456,319.5 460,318.5"/>
<path d="M460,318.5 457.8,321.5 457.8,331.5 459.5,332.8"/>
<path d="M441,331.5 447,335 452,339 454,340"/>
<path d="M431,332.5 434,332.2 434.5,335.5 433,339 431,340"/>
<path d="M431,336.2 434.2,335.8"/>
<path d="M433,350 437,352 440,353.5"/>
<path d="M442,359.5 448,359 453,357.5 455.5,357"/>
<path d="M438.5,353.5 440,353.5 441.2,357.5 440.5,362 442,366 441.5,369"/>
<path d="M438.5,353.5 438.5,357 438,362 437,364.5 433,367 430,370"/>
<path d="M417.5,357.5 418,362 414,362.5 413.5,370"/>
<path d="M410.8,376 410.5,385 408,386 407.5,394 407,403 404.5,404.5 401.5,404 399.5,403"/>
<path d="M415,375 419.5,375.5 422,380 425,384 428,386.5"/>
<path d="M408,394.5 410,398 414,395 419,396 422.5,392 426,388.5 428,386.5"/>
<path d="M419.5,375.5 425,374.5 429,371 432,368.5"/>
<path d="M432,368.5 436,370 437.5,374 437,379 435.5,383 433.5,387 428,386.5"/>
<path d="M433.5,387 434.5,392 434,396"/>
<path d="M431.5,398.5 432.5,396.8 434.2,396.8 435,398.5 434,400.2 432.2,400.2 431.5,398.5"/>
<path d="M422.5,407 426,403.5 429,405.5 425,409.5 422.5,407"/>
<path d="M432,368.5 435,367 439,366 439.5,363"/>
<path d="M439.5,360 441,364 442.5,369 444,372 445,370 444,366 442.5,362"/>
<path d="M377,208.5 375.5,206.5 377.5,205 382,205.5 383.5,207.5 381,209.5 378,210"/>
<path d="M383.5,207.5 386,207.5 389,209 393,208.5 395,206.5 394,204.5 388,204"/>
<path d="M389,201 391,202 396,202 400,200"/>
<path d="M396,202 395.5,204 399,204 404,203.5 407,201.5"/>
<path d="M395,206.5 396,208.5 399,209.5 404,208 407,205"/>
<path d="M393,208.5 396,208.5"/>
<path d="M399,209.5 401,212 397.5,211.5 395,212 394,212.5"/>
<path d="M401,212 403,215 402,218 401,219.5"/>
<path d="M403,215 407,214 410,213.5"/>
<path d="M404,208 406,209.5 407.5,211.5"/>
<path d="M402,218 405,218.5 407,217 408.5,215"/>
<path d="M405,218.5 405.5,221.5 405,223.5"/>
<path d="M405.5,221.5 409,222 411,220.5"/>
<path d="M408.5,212.5 411,217 412,219.5 415,220 418.5,219.5 421.5,218.5"/>
<path d="M412,219.5 409.5,221.5 408,223"/>
<path d="M419.5,203.5 420.5,206 421.5,208.5 423,209.5"/>
<path d="M405,179.5 410,178.5 414.8,178"/>
<path d="M404,184 408,183 412,183.5 415.2,184"/>
<path d="M452,221.5 455,222 458,223 461,222.5"/>
<path d="M461,222.5 464,220.8"/>
<path d="M459,223.5 461.5,224.5 464,227"/>
<path d="M441.6,243 443,246.4 441,252.4"/>
<path d="M439.2,241.6 442,241.2 441.6,243"/>
<path d="M161.5,281.5 161,286.5 162.5,286.5"/>
<path d="M160,290 164,290.5 165,287.8"/>
<path d="M160,292.8 163.5,293.8 164,290.5"/>
<path d="M163.5,296.5 167.5,293.5 172.2,291.5"/>
<path d="M170,300 171.2,302 169.5,303.5"/>
<path d="M175,305 175.5,308.5"/>
<path d="M199.5,277.5 199.8,280.8"/>
<path d="M591,273 590.5,274.5 588,276.5 585.5,278 584.5,280.5 585,284 587,288 588,292 589,295"/>
<path d="M588,276.5 590,276 592,278 592.5,281.5 594.5,282 597,281 599,283 601.5,286 602,289.5"/>
<path d="M602,289.5 600,291.5 597,292 596,295"/>
<path d="M602,289.5 604.5,291 606,289"/>
<path d="M634.5,230.5 637,229.5 639,229.5"/>
</g>
</svg>
<svg width="850" height="600" viewBox="0 0 850 600" style="position:absolute;left:0;top:0">
<defs><pattern id="hatch" width="4" height="4" patternUnits="userSpaceOnUse" patternTransform="rotate(45)"><rect width="4" height="4" fill="#fff"/><line x1="2" y1="0" x2="2" y2="4" stroke="#d4d4d4" stroke-width="1.2"/></pattern></defs>
<rect x="157.5" y="537.7" width="47.5" height="10.3" fill="url(#hatch)" stroke="#bdbdbd" stroke-width="0.6"/>
<line x1="181" y1="534.5" x2="181" y2="537.7" stroke="#bbb" stroke-width="0.6"/>
<g stroke="none">
<rect x="224.4" y="537.7" width="59" height="10.3" fill="#ffffcc"/>
<rect x="283.4" y="537.7" width="58.6" height="10.3" fill="#ffeda0"/>
<rect x="342" y="537.7" width="58.6" height="10.3" fill="#fed976"/>
<rect x="400.5" y="537.7" width="58.6" height="10.3" fill="#feb24c"/>
<rect x="459.1" y="537.7" width="58.6" height="10.3" fill="#fd8d3c"/>
<rect x="517.7" y="537.7" width="58.6" height="10.3" fill="#fc4e2a"/>
<rect x="575.4" y="537.7" width="59" height="10.3" fill="#e31a1c"/>
<path d="M634.4,537.7H688L692.6,542.85L688,548H634.4Z" fill="#b10026"/>
</g>
<path d="M224.4,537.7H688L692.6,542.85L688,548H224.4Z" fill="none" stroke="#a8a8a8" stroke-width="0.5"/>
<g stroke="#666" stroke-width="0.6" stroke-opacity="0.7">
<line x1="224.4" y1="534.5" x2="224.4" y2="548"/><line x1="283.4" y1="534.5" x2="283.4" y2="548"/><line x1="342" y1="534.5" x2="342" y2="548"/><line x1="400.5" y1="534.5" x2="400.5" y2="548"/><line x1="459.1" y1="534.5" x2="459.1" y2="548"/><line x1="517.7" y1="534.5" x2="517.7" y2="548"/><line x1="575.4" y1="534.5" x2="575.4" y2="548"/><line x1="634.4" y1="534.5" x2="634.4" y2="548"/>
</g>
</svg>
<div class="lg" style="left:181px">No data</div>
<div class="lg" style="left:224.8px">0%</div>
<div class="lg" style="left:283.4px">0.1%</div>
<div class="lg" style="left:342px">0.2%</div>
<div class="lg" style="left:400.5px">0.5%</div>
<div class="lg" style="left:459.1px">1%</div>
<div class="lg" style="left:517.7px">2%</div>
<div class="lg" style="left:575.4px">5%</div>
<div class="lg" style="left:634.4px">10%</div>
<div class="foot" id="fl" style="left:16.5px;font-size:12.5px"><b>Data source:</b> Global Carbon Budget (2025)</div>
<div class="foot" id="fr" style="right:20px;font-size:12.75px">OurWorldinData.org/co2-and-greenhouse-gas-emissions | CC BY</div>
</body></html>
